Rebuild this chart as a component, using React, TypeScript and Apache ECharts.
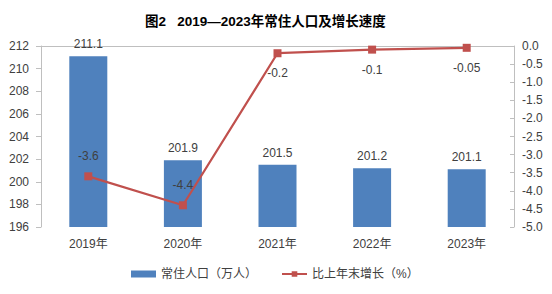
import React, { useEffect, useRef } from "react";
import * as echarts from "echarts";

const years = ["2019年", "2020年", "2021年", "2022年", "2023年"];
const population = [211.1, 201.9, 201.5, 201.2, 201.1];
const growth = [-3.6, -4.4, -0.2, -0.1, -0.05];
const growthLabels = ["-3.6", "-4.4", "-0.2", "-0.1", "-0.05"];
const growthLabelPos = ["top", "top", "bottom", "bottom", "bottom"];

const FONT = '"Liberation Sans", "Noto Sans CJK SC", sans-serif';
const TEXT = "#404040";
const AXIS = "#BFBFBF";

export default function App() {
  const ref = useRef<HTMLDivElement>(null);

  useEffect(() => {
    if (!ref.current) return;
    const chart = echarts.init(ref.current, null, { renderer: "svg" });
    chart.setOption({
      animation: false,
      backgroundColor: "#ffffff",
      textStyle: { fontFamily: FONT },
      title: {
        text: "图2   2019—2023年常住人口及增长速度",
        left: 140,
        top: 10,
        textStyle: { fontFamily: FONT, fontSize: 13.5, fontWeight: "bold", color: "#000" },
      },
      legend: {
        left: 126,
        top: 263,
        itemGap: 24,
        itemWidth: 25,
        itemHeight: 7,
        textStyle: { fontFamily: FONT, fontSize: 12, color: TEXT },
        data: [
          { name: "常住人口（万人）", icon: "rect" },
          { name: "比上年末增长（%）" },
        ],
      },
      grid: { left: 41, right: 38, top: 46, bottom: 67, containLabel: false },
      xAxis: {
        type: "category",
        data: years,
        axisLine: { lineStyle: { color: AXIS } },
        axisTick: { alignWithLabel: false, length: 5, lineStyle: { color: AXIS } },
        axisLabel: { fontFamily: FONT, fontSize: 12, color: TEXT, margin: 11 },
      },
      yAxis: [
        {
          type: "value",
          min: 196,
          max: 212,
          interval: 2,
          splitLine: { show: false },
          axisLine: { show: true, lineStyle: { color: AXIS } },
          axisTick: { show: true, length: 5, lineStyle: { color: AXIS } },
          axisLabel: { fontFamily: FONT, fontSize: 12, color: TEXT, margin: 12 },
        },
        {
          type: "value",
          min: -5,
          max: 0,
          interval: 0.5,
          splitLine: { show: false },
          axisLine: { show: true, lineStyle: { color: AXIS } },
          axisTick: { show: true, inside: true, length: 4, lineStyle: { color: AXIS } },
          axisLabel: {
            fontFamily: FONT,
            fontSize: 12,
            color: TEXT,
            margin: 8,
            formatter: (v: number) => v.toFixed(1),
          },
        },
      ],
      series: [
        {
          name: "常住人口（万人）",
          type: "bar",
          data: population,
          barWidth: 38,
          itemStyle: { color: "#4F81BD" },
          label: {
            show: true,
            position: "top",
            distance: 6,
            fontFamily: FONT,
            fontSize: 12,
            color: TEXT,
            formatter: (p: any) => p.value.toFixed(1),
          },
          z: 2,
        },
        {
          name: "比上年末增长（%）",
          type: "line",
          yAxisIndex: 1,
          data: growth.map((v, i) => ({
            value: v,
            label: {
              show: true,
              position: growthLabelPos[i],
              distance: 10,
              formatter: growthLabels[i],
            },
          })),
          symbol: "rect",
          symbolSize: 8,
          lineStyle: { color: "#C0504D", width: 2.25 },
          itemStyle: { color: "#C0504D" },
          label: { fontFamily: FONT, fontSize: 12, color: TEXT },
          z: 3,
        },
      ],
    });
    return () => chart.dispose();
  }, []);

  return <div ref={ref} style={{ width: 552, height: 294, margin: -8 }} />;
}
